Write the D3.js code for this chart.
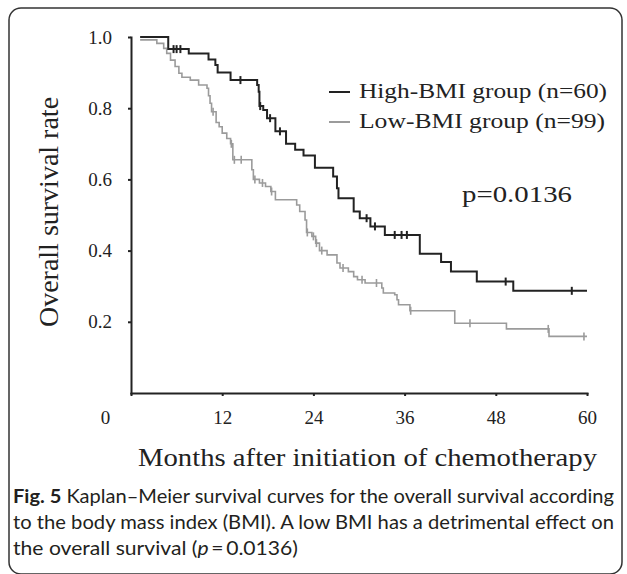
<!DOCTYPE html>
<meta charset="utf-8">
<style>
body { margin: 0; background: #fff; }
.axis path, .axis line { stroke: #222; stroke-width: 2px; }
.axis text { font-family: "Liberation Serif", "Times New Roman", serif; font-size: 19px; fill: #222; }
.serif { font-family: "Liberation Serif", "Times New Roman", serif; fill: #222; }
.caption { font-family: Lato, "Noto Sans", sans-serif; font-size: 19px; fill: #231f20; }
</style>
<svg width="627" height="574"></svg>
<script src="https://cdn.jsdelivr.net/npm/d3@7"></script>
<script>
// High-BMI group: step times (months) and survival after each step
var highTimes = [1.2, 4.9, 7.6, 10.2, 11.1, 11.4, 13.1, 16.6, 16.8, 16.9, 17.4, 17.9, 19.0, 20.4, 21.6, 22.7, 24.2, 26.6, 27.1, 27.3, 29.3, 30.1, 31.5, 33.4, 38.0, 40.8, 42.1, 45.5, 50.3, 60];
var highSurv  = [1.0, 0.966, 0.954, 0.937, 0.921, 0.900, 0.879, 0.865, 0.846, 0.806, 0.795, 0.772, 0.735, 0.700, 0.683, 0.667, 0.633, 0.608, 0.575, 0.547, 0.510, 0.491, 0.468, 0.444, 0.391, 0.368, 0.341, 0.313, 0.287, 0.287];
var highCensor = [5.6, 6.0, 6.5, 14.4, 17.0, 18.3, 19.6, 31.0, 32.1, 34.7, 35.6, 36.3, 49.3, 58.0];

// Low-BMI group
var lowTimes = [1.2, 3.4, 4.3, 4.7, 5.2, 5.8, 6.3, 6.7, 7.8, 8.9, 10.0, 10.2, 10.4, 10.6, 11.2, 11.6, 12.0, 12.6, 13.1, 13.4, 15.9, 16.1, 16.9, 17.7, 18.4, 19.0, 21.8, 22.2, 22.9, 23.1, 23.8, 24.3, 24.8, 25.8, 27.1, 27.5, 28.6, 29.3, 29.8, 30.8, 33.0, 33.2, 34.7, 35.0, 35.2, 36.7, 42.6, 49.4, 55.0, 60];
var lowSurv  = [0.992, 0.982, 0.968, 0.954, 0.935, 0.917, 0.898, 0.887, 0.879, 0.865, 0.856, 0.835, 0.814, 0.790, 0.760, 0.748, 0.730, 0.715, 0.700, 0.655, 0.627, 0.600, 0.590, 0.580, 0.566, 0.543, 0.528, 0.510, 0.486, 0.451, 0.440, 0.421, 0.400, 0.388, 0.365, 0.351, 0.341, 0.327, 0.318, 0.309, 0.295, 0.281, 0.276, 0.262, 0.248, 0.231, 0.196, 0.180, 0.159, 0.159];
var lowCensor = [10.8, 13.2, 13.6, 14.5, 16.3, 17.3, 18.5, 23.2, 24.0, 24.4, 25.1, 27.9, 30.4, 32.3, 36.8, 44.6, 54.9, 59.6];

var xTicks = [0, 12, 24, 36, 48, 60];
var yTicks = [0.2, 0.4, 0.6, 0.8, 1.0];
var legendLabels = ["High-BMI  group (n=60)", "Low-BMI  group (n=99)"];
var pText = "p=0.0136";

var svg = d3.select("svg");

// rounded frame
svg.append("rect")
    .attr("x", 9).attr("y", 8)
    .attr("width", 613).attr("height", 566)
    .attr("rx", 12)
    .attr("fill", "none")
    .attr("stroke", "#333")
    .attr("stroke-width", 1.5);

var x = d3.scaleLinear().domain([0, 60]).range([131, 587]);
var y = d3.scaleLinear().domain([0, 1]).range([393, 37]);

svg.append("g")
    .attr("class", "axis")
    .attr("transform", "translate(0," + y(0) + ")")
    .call(d3.axisBottom(x).tickValues(xTicks).tickSize(3).tickSizeOuter(0).tickPadding(15))
  .selectAll(".tick text")
    .attr("dx", function(d) { return d === 0 ? -26 : 0; });

svg.append("g")
    .attr("class", "axis")
    .attr("transform", "translate(" + x(0) + ",0)")
    .call(d3.axisLeft(y).tickValues(yTicks).tickFormat(d3.format(".1f")).tickSize(3).tickSizeOuter(0).tickPadding(16));

// y domain should stop at 1.0
svg.selectAll(".axis .domain").attr("stroke-linecap", "square");

function steps(times, surv) {
  return times.map(function(t, i) { return [t, surv[i]]; });
}
function survAt(times, surv, t) {
  var v = surv[0];
  for (var i = 0; i < times.length; i++) if (times[i] <= t) v = surv[i];
  return v;
}

var line = d3.line()
    .curve(d3.curveStepAfter)
    .x(function(d) { return x(d[0]); })
    .y(function(d) { return y(d[1]); });

var groups = [
  {times: lowTimes, surv: lowSurv, censor: lowCensor, color: "#9b9b9b", width: 1.6},
  {times: highTimes, surv: highSurv, censor: highCensor, color: "#222", width: 2}
];

groups.forEach(function(g) {
  svg.append("path")
      .datum(steps(g.times, g.surv))
      .attr("fill", "none")
      .attr("stroke", g.color)
      .attr("stroke-width", g.width)
      .attr("d", line);

  svg.selectAll(null)
      .data(g.censor)
    .enter().append("line")
      .attr("x1", function(d) { return x(d); })
      .attr("x2", function(d) { return x(d); })
      .attr("y1", function(d) { return y(survAt(g.times, g.surv, d)) - 4; })
      .attr("y2", function(d) { return y(survAt(g.times, g.surv, d)) + 4; })
      .attr("stroke", g.color)
      .attr("stroke-width", g.width);
});

// legend
var legendColors = ["#222", "#9b9b9b"];
var legendLen = [248, 246];
legendLabels.forEach(function(label, i) {
  var ly = 98 + i * 30;
  svg.append("line")
      .attr("x1", 329).attr("x2", 350)
      .attr("y1", ly - 6).attr("y2", ly - 6)
      .attr("stroke", legendColors[i])
      .attr("stroke-width", 2);
  svg.append("text")
      .attr("class", "serif")
      .attr("x", 359).attr("y", ly)
      .attr("font-size", 22)
      .attr("textLength", legendLen[i])
      .attr("lengthAdjust", "spacingAndGlyphs")
      .text(label);
});

svg.append("text")
    .attr("class", "serif")
    .attr("x", 462).attr("y", 202)
    .attr("font-size", 23)
    .attr("textLength", 110)
    .attr("lengthAdjust", "spacingAndGlyphs")
    .text(pText);

// axis titles
svg.append("text")
    .attr("class", "serif")
    .attr("transform", "translate(58,212) rotate(-90)")
    .attr("text-anchor", "middle")
    .attr("font-size", 28)
    .text("Overall survival rate");

svg.append("text")
    .attr("class", "serif")
    .attr("x", 138).attr("y", 466)
    .attr("font-size", 25)
    .attr("textLength", 459)
    .attr("lengthAdjust", "spacingAndGlyphs")
    .text("Months after initiation of chemotherapy");

// caption
var cap1 = svg.append("text").attr("class", "caption").attr("x", 13).attr("y", 503)
    .attr("textLength", 601).attr("lengthAdjust", "spacingAndGlyphs");
cap1.append("tspan").attr("font-weight", "bold").text("Fig. 5");
cap1.append("tspan").text(" Kaplan\u2013Meier survival curves for the overall survival according");

svg.append("text").attr("class", "caption").attr("x", 13).attr("y", 529)
    .attr("textLength", 601).attr("lengthAdjust", "spacingAndGlyphs")
    .text("to the body mass index (BMI). A low BMI has a detrimental effect on");

var cap3 = svg.append("text").attr("class", "caption").attr("x", 13).attr("y", 555)
    .attr("textLength", 285).attr("lengthAdjust", "spacingAndGlyphs");
cap3.append("tspan").text("the overall survival (");
cap3.append("tspan").attr("font-style", "italic").text("p");
cap3.append("tspan").text("\u2009=\u20090.0136)");
</script>
